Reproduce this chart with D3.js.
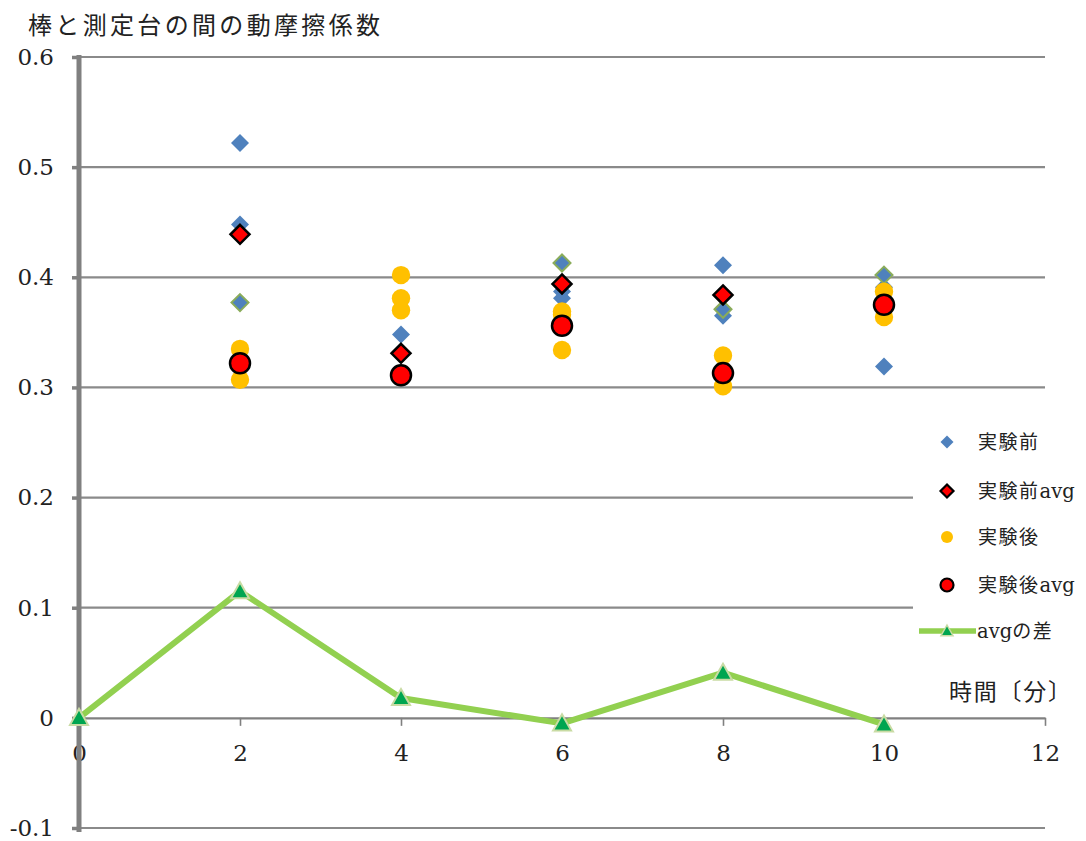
<!DOCTYPE html>
<html><head><meta charset="utf-8">
<script src="https://cdn.jsdelivr.net/npm/d3@7"></script>
<style>body{margin:0;background:#fff}</style>
</head><body><svg id="chart" width="1086" height="841"></svg>
<script>
// Chart text
const title = "棒と測定台の間の動摩擦係数";
const xTitle = "時間〔分〕";
const xTicks = [0, 2, 4, 6, 8, 10, 12];
const yTicks = [-0.1, 0, 0.1, 0.2, 0.3, 0.4, 0.5, 0.6];
const yTickLabels = ["-0.1", "0", "0.1", "0.2", "0.3", "0.4", "0.5", "0.6"];
const legendLabels = ["実験前", "実験前avg", "実験後", "実験後avg", "avgの差"];

// 実験前: individual measurements
const beforeTime = [2, 2, 4, 6, 6, 8, 8, 10, 10];
const beforeValue = [0.522, 0.448, 0.348, 0.387, 0.381, 0.411, 0.365, 0.391, 0.319];
// 実験前 points drawn with a green border
const beforeEdgedTime = [2, 6, 8, 10];
const beforeEdgedValue = [0.377, 0.413, 0.371, 0.402];
// 実験前avg
const beforeAvgTime = [2, 4, 6, 8];
const beforeAvgValue = [0.439, 0.331, 0.394, 0.384];
// 実験後: individual measurements
const afterTime = [2, 2, 4, 4, 4, 6, 6, 6, 8, 8, 10, 10];
const afterValue = [0.335, 0.307, 0.402, 0.381, 0.370, 0.369, 0.366, 0.334, 0.329, 0.301, 0.387, 0.364];
// 実験後avg
const afterAvgTime = [2, 4, 6, 8, 10];
const afterAvgValue = [0.322, 0.311, 0.356, 0.313, 0.375];
// avgの差
const diffTime = [0, 2, 4, 6, 8, 10];
const diffValue = [0, 0.115, 0.018, -0.005, 0.041, -0.006];

const C = {
  blue: "#4f81bd", edge: "#8aac5a", red: "#ff0000", yellow: "#ffc000",
  line: "#92d050", triFill: "#00a550", triEdge: "#c9dba4", grid: "#8a8a8a", axis: "#808080"
};
const JP = "'Noto Sans CJK JP', 'Noto Sans', sans-serif";
const SERIF = "'DejaVu Serif', 'Liberation Serif', serif";

const svg = d3.select("#chart");
const x = d3.scaleLinear().domain([0, 12]).range([79, 1045]);
const y = d3.scaleLinear().domain([-0.1, 0.6]).range([828, 57]);

const zip = (a, b) => a.map((t, i) => [t, b[i]]);
const diamond = h => `M0,${-h}L${h},0L0,${h}L${-h},0Z`;
const triangle = h => `M0,${-h}L${h},${h * 0.78}L${-h},${h * 0.78}Z`;

// Title
svg.append("text").attr("x", 28).attr("y", 34)
  .attr("font-family", JP).attr("font-size", 24).attr("fill", "#222")
  .attr("textLength", 352).attr("lengthAdjust", "spacing").text(title);

// Horizontal gridlines
svg.append("g").selectAll("line").data(yTicks.filter(v => v !== 0)).join("line")
  .attr("x1", x(0)).attr("x2", x(12))
  .attr("y1", d => y(d)).attr("y2", d => y(d))
  .attr("stroke", C.grid).attr("stroke-width", 2.2);

// x axis (value 0)
const xAxis = d3.axisBottom(x).tickValues(xTicks).tickSize(8).tickSizeOuter(0).tickFormat(d3.format("d"));
const gx = svg.append("g").attr("transform", `translate(0,${y(0)})`).call(xAxis);
gx.select(".domain").attr("stroke", C.axis).attr("stroke-width", 2.2);
gx.selectAll(".tick line").attr("stroke", C.axis).attr("stroke-width", 1.6);
gx.selectAll(".tick text").attr("font-family", SERIF).attr("font-size", 23)
  .attr("fill", "#222").attr("y", 27).attr("dy", "0.71em");

// y axis
const yAxis = d3.axisLeft(y).tickValues(yTicks).tickSize(7).tickSizeOuter(0)
  .tickFormat((d, i) => yTickLabels[i]);
const gy = svg.append("g").attr("transform", `translate(${x(0)},0)`).call(yAxis);
gy.select(".domain").attr("stroke", C.axis).attr("stroke-width", 5)
  .attr("d", `M0,${y(0.6) - 2}V${y(-0.1) + 4}`);
gy.selectAll(".tick line").attr("stroke", C.axis).attr("stroke-width", 3.5);
gy.selectAll(".tick text").attr("font-family", SERIF).attr("font-size", 23)
  .attr("fill", "#222").attr("x", -25);

// x axis title
svg.append("text").attr("x", 949).attr("y", 700)
  .attr("font-family", JP).attr("font-size", 23).attr("fill", "#222")
  .attr("textLength", 122).attr("lengthAdjust", "spacing").text(xTitle);

// Legend panel
svg.append("rect").attr("x", 913).attr("y", 405).attr("width", 173).attr("height", 245).attr("fill", "#fff");

// 実験前
svg.append("g").selectAll("path").data(zip(beforeTime, beforeValue)).join("path")
  .attr("transform", d => `translate(${x(d[0])},${y(d[1])})`)
  .attr("d", diamond(9)).attr("fill", C.blue);
svg.append("g").selectAll("path").data(zip(beforeEdgedTime, beforeEdgedValue)).join("path")
  .attr("transform", d => `translate(${x(d[0])},${y(d[1])})`)
  .attr("d", diamond(8.5)).attr("fill", C.blue).attr("stroke", C.edge).attr("stroke-width", 2);
// 実験前avg
svg.append("g").selectAll("path").data(zip(beforeAvgTime, beforeAvgValue)).join("path")
  .attr("transform", d => `translate(${x(d[0])},${y(d[1])})`)
  .attr("d", diamond(9.5)).attr("fill", C.red).attr("stroke", "#000").attr("stroke-width", 2.5);
// 実験後
svg.append("g").selectAll("circle").data(zip(afterTime, afterValue)).join("circle")
  .attr("cx", d => x(d[0])).attr("cy", d => y(d[1])).attr("r", 9.2).attr("fill", C.yellow);
// 実験後avg
svg.append("g").selectAll("circle").data(zip(afterAvgTime, afterAvgValue)).join("circle")
  .attr("cx", d => x(d[0])).attr("cy", d => y(d[1])).attr("r", 10)
  .attr("fill", C.red).attr("stroke", "#000").attr("stroke-width", 2.5);
// avgの差
const diffPts = zip(diffTime, diffValue);
svg.append("path").datum(diffPts)
  .attr("d", d3.line().x(d => x(d[0])).y(d => y(d[1])))
  .attr("fill", "none").attr("stroke", C.line).attr("stroke-width", 6).attr("stroke-linejoin", "round");
svg.append("g").selectAll("path").data(diffPts).join("path")
  .attr("transform", d => `translate(${x(d[0])},${y(d[1])})`)
  .attr("d", triangle(9)).attr("fill", C.triFill).attr("stroke", C.triEdge).attr("stroke-width", 2);

// Legend entries
const legY = [442, 491, 537, 585, 631];
const lg = svg.append("g");
const mx = 947, tx = 978;
lg.append("path").attr("transform", `translate(${mx},${legY[0]})`).attr("d", diamond(6.5)).attr("fill", C.blue);
lg.append("path").attr("transform", `translate(${mx},${legY[1]})`).attr("d", diamond(6.5))
  .attr("fill", C.red).attr("stroke", "#000").attr("stroke-width", 2.2);
lg.append("circle").attr("cx", mx).attr("cy", legY[2]).attr("r", 6).attr("fill", C.yellow);
lg.append("circle").attr("cx", mx).attr("cy", legY[3]).attr("r", 6.5)
  .attr("fill", C.red).attr("stroke", "#000").attr("stroke-width", 2.2);
lg.append("line").attr("x1", 919).attr("x2", 976).attr("y1", legY[4]).attr("y2", legY[4])
  .attr("stroke", C.line).attr("stroke-width", 5.5);
lg.append("path").attr("transform", `translate(${mx},${legY[4]})`).attr("d", triangle(6))
  .attr("fill", C.triFill).attr("stroke", C.triEdge).attr("stroke-width", 1.5);

legendLabels.forEach((lab, i) => {
  const t = lg.append("text").attr("y", legY[i] + 7).attr("fill", "#222").attr("font-size", 19);
  const m = lab.match(/^(.*?)(avg)(.*)$/);
  if (!m) {
    t.attr("x", tx).append("tspan").attr("font-family", JP).attr("letter-spacing", 1.5).text(lab);
  } else if (m[1] === "") {
    t.attr("x", tx - 1);
    t.append("tspan").attr("font-family", SERIF).attr("font-size", 19.5).text("avg");
    t.append("tspan").attr("font-family", JP).attr("letter-spacing", 1.5).text(m[3]);
  } else {
    t.attr("x", tx);
    t.append("tspan").attr("font-family", JP).attr("letter-spacing", 1.5).text(m[1]);
    t.append("tspan").attr("font-family", SERIF).attr("font-size", 19.5).text("avg");
  }
});
</script></body></html>
